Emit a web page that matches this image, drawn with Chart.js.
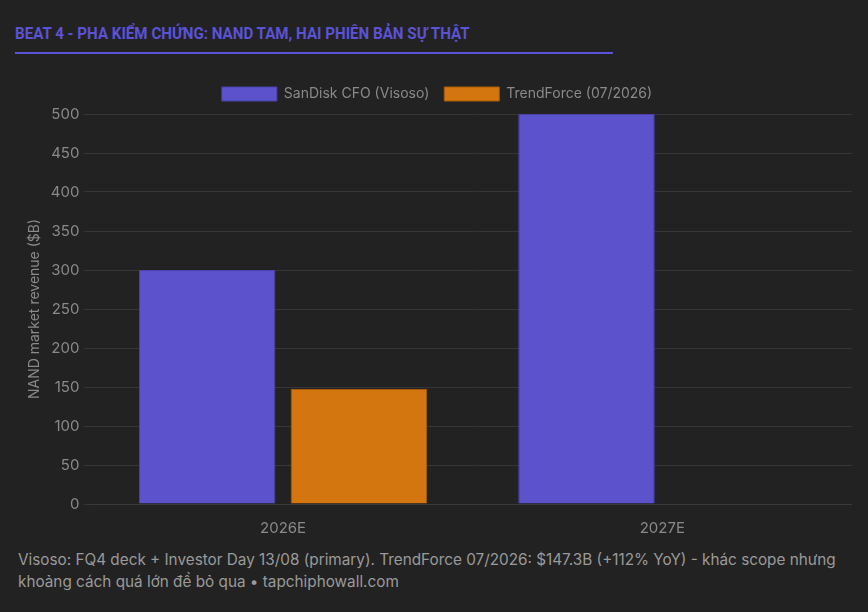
<!DOCTYPE html>
<html>
<head>
<meta charset="utf-8">
<script src="https://cdn.jsdelivr.net/npm/chart.js@4.4.1/dist/chart.umd.min.js"></script>
<style>
  html, body { margin: 0; padding: 0; background: #222222; }
  body { width: 868px; height: 612px; position: relative; overflow: hidden; font-family: Inter, "Noto Sans", sans-serif; }
  .title { position: absolute; left: 15px; top: 23px; color: #5b52d6; font-family: Roboto, Inter, sans-serif; font-size: 17px; font-weight: 700; line-height: 20px; padding-bottom: 9px; border-bottom: 2px solid #5b52d6; width: 598px; white-space: nowrap; }
  .title span { display: inline-block; transform: scaleX(0.89); transform-origin: left center; }
  .wrap { position: absolute; left: 22px; top: 72px; width: 830px; height: 472px; }
  .note { position: absolute; left: 18px; top: 549px; width: 845px; color: #9a9a9a; font-size: 15.3px; line-height: 22px; }
</style>
</head>
<body>
<div class="title"><span>BEAT 4 - PHA KIỂM CHỨNG: NAND TAM, HAI PHIÊN BẢN SỰ THẬT</span></div>
<div class="wrap"><canvas id="myChart" width="830" height="472"></canvas></div>
<div class="note">Visoso: FQ4 deck + Investor Day 13/08 (primary). TrendForce 07/2026: $147.3B (+112% YoY) - khác scope nhưng khoảng cách quá lớn để bỏ qua • tapchiphowall.com</div>
<script>
 const categories = ['2026E', '2027E'];
 const sandisk = [300, 500];
 const trendforce = [147.3, null];
 const yTicks = [0, 50, 100, 150, 200, 250, 300, 350, 400, 450, 500];

 // a little more room under the legend
 const legendGap = {
     id: 'legendGap',
     beforeInit(chart) {
         const fit = chart.legend.fit;
         chart.legend.fit = function () { fit.bind(chart.legend)(); this.height += 3; };
     }
 };

 const CHART = document.getElementById('myChart');
 const myChart = new Chart(CHART, {
     type: 'bar',
     data: {
         labels: categories,
         datasets: [{
             label: 'SanDisk CFO (Visoso)',
             data: sandisk,
             backgroundColor: '#5b52cc',
             borderColor: '#4a42a8',
             borderWidth: 1
         }, {
             label: 'TrendForce (07/2026)',
             data: trendforce,
             backgroundColor: '#d4760f',
             borderColor: '#a85c0a',
             borderWidth: 1
         }]
     },
     plugins: [legendGap],
     options: {
         responsive: false,
         maintainAspectRatio: false,
         animation: false,
         plugins: {
             legend: {
                 labels: { color: '#8a8a8a', boxWidth: 55, boxHeight: 14, padding: 15, font: { family: 'Inter', size: 14 } }
             }
         },
         scales: {
             x: {
                 grid: { display: false },
                 border: { color: '#3a3a3a' },
                 ticks: { color: '#8a8a8a', padding: 7, font: { family: 'Inter', size: 15 } }
             },
             y: {
                 min: 0,
                 max: 500,
                 afterBuildTicks: axis => { axis.ticks = yTicks.map(v => ({ value: v })); },
                 grid: { color: '#363636', tickLength: 10 },
                 border: { display: false },
                 ticks: { color: '#8a8a8a', padding: 4, font: { family: 'Inter', size: 15 } },
                 title: { display: true, text: 'NAND market revenue ($B)', color: '#8a8a8a', padding: { top: 4, bottom: 4 }, font: { family: 'Inter', size: 14 } }
             }
         }
     }
 });
</script>
</body>
</html>
